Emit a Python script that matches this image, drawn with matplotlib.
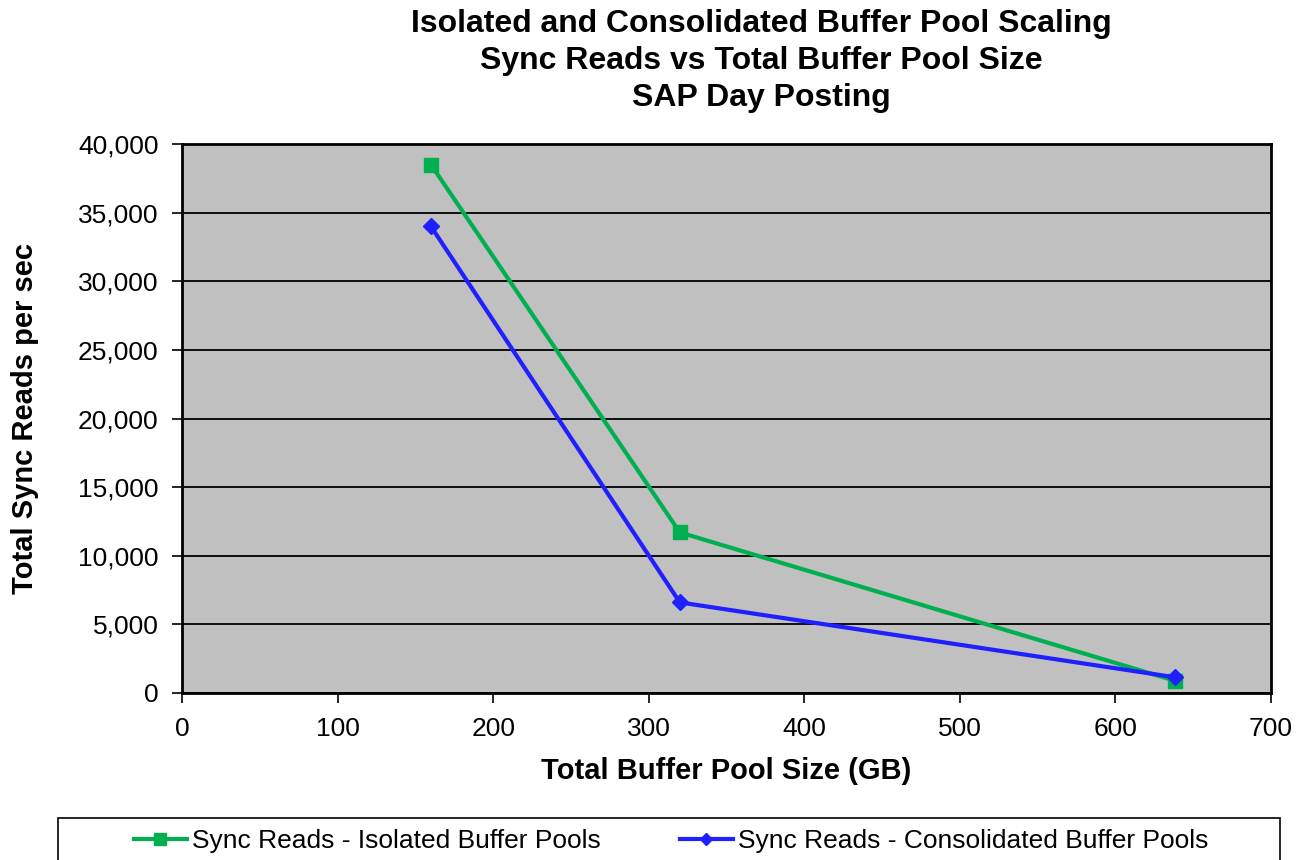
import matplotlib.pyplot as plt
from matplotlib.patches import Rectangle
from matplotlib.ticker import FuncFormatter

plt.rcParams['font.family'] = ['Liberation Sans', 'DejaVu Sans']

# data
pool_size = [160, 320, 638]
isolated = [38500, 11700, 900]
consolidated = [34000, 6600, 1150]

fig = plt.figure(figsize=(13.02, 8.6), dpi=100)
ax = fig.add_axes([182/1302, 167/860, 1089/1302, 549/860])
ax.set_facecolor('#c0c0c0')

ax.plot(pool_size, isolated, color='#00b050', lw=3, marker='s', ms=10,
        label='Sync Reads - Isolated Buffer Pools', zorder=3)
ax.plot(pool_size, consolidated, color='#1f1fff', lw=3, marker='D', ms=8,
        label='Sync Reads - Consolidated Buffer Pools', zorder=4)

ax.set_xlim(0, 700)
ax.set_ylim(0, 40000)
ax.set_xticks(range(0, 701, 100))
ax.set_yticks(range(0, 40001, 5000))
ax.yaxis.set_major_formatter(FuncFormatter(lambda v, p: f'{int(v):,}'))
ax.grid(axis='y', color='black', lw=1.3)
ax.set_axisbelow(True)
for s in ax.spines.values():
    s.set_linewidth(2)
    s.set_color('black')
ax.tick_params(labelsize=19, length=7, width=1.2, direction='out', pad=10)

ax.set_xlabel('Total Buffer Pool Size (GB)', fontsize=21, fontweight='bold', labelpad=12)
ax.set_ylabel('Total Sync Reads per sec', fontsize=21, fontweight='bold', labelpad=28)

fig.text(761/1302, 1 - 61/860,
         'Isolated and Consolidated Buffer Pool Scaling\nSync Reads vs Total Buffer Pool Size\nSAP Day Posting',
         ha='center', va='center', fontsize=23, fontweight='bold', linespacing=1.3)

# legend box runs off the bottom of the figure
fig.patches.append(Rectangle((58/1302, -0.02), (1280-58)/1302, 0.02 + 42/860,
                             transform=fig.transFigure, fill=False,
                             edgecolor='black', lw=1.2))
fig.legend(loc='center', bbox_to_anchor=(671/1302, 1 - 841/860), ncol=2,
           frameon=False, fontsize=19, handlelength=2.0, handletextpad=0.2,
           columnspacing=3.0, markerscale=0.8)

fig.savefig('out.png', dpi=100)
